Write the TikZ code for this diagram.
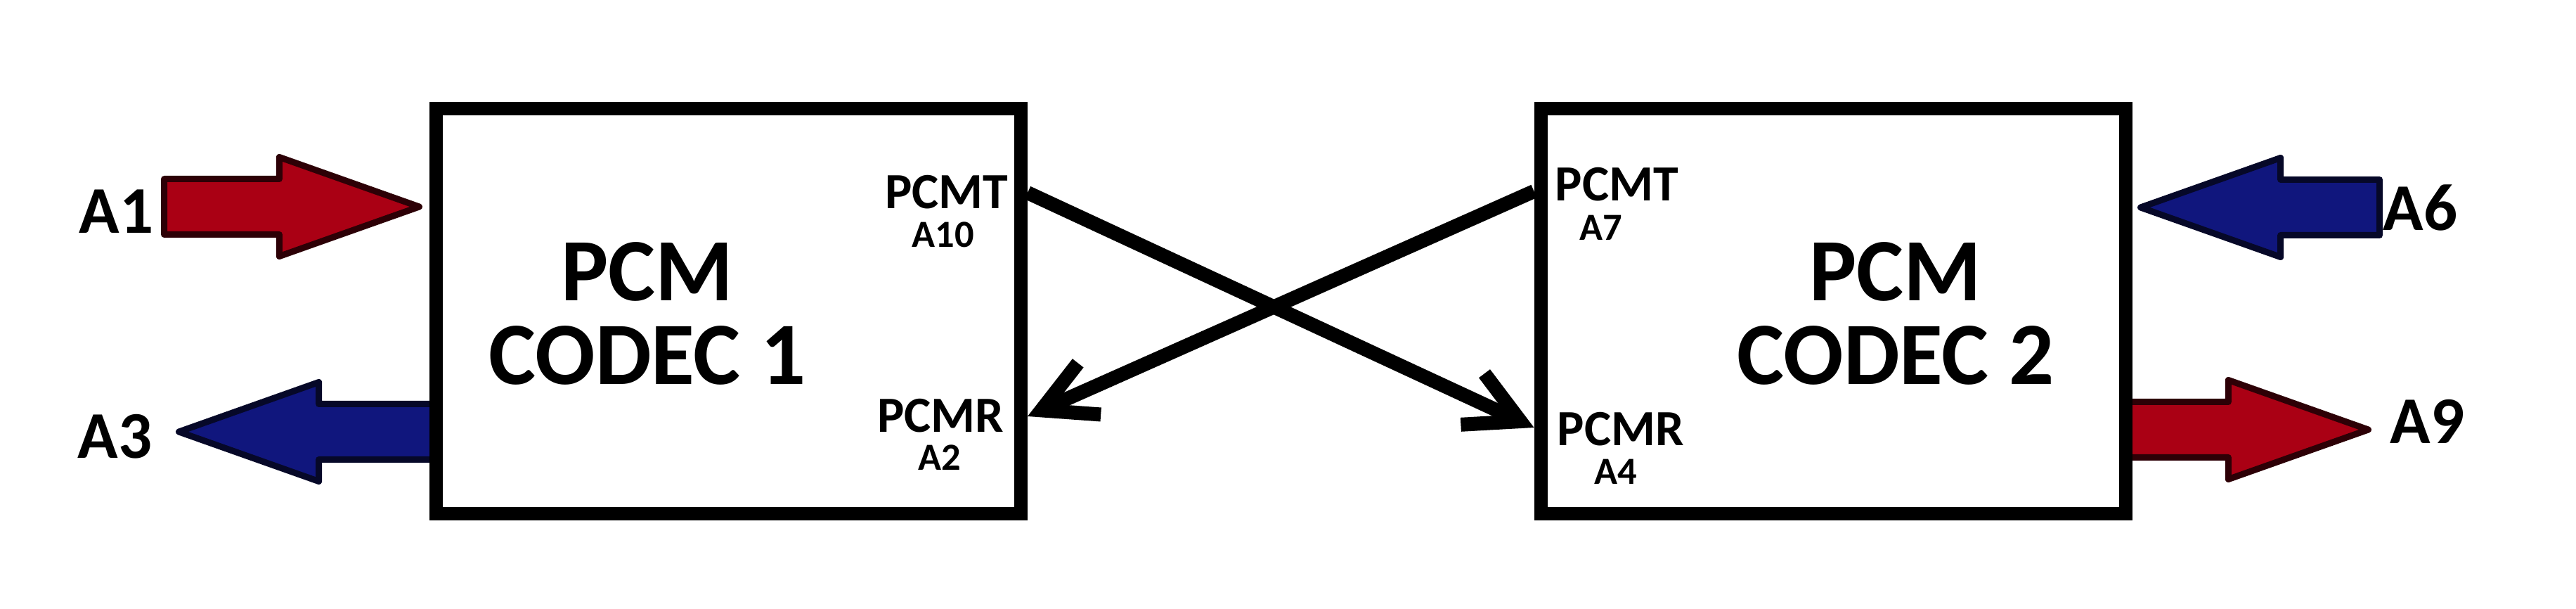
\documentclass[tikz,border=0pt]{standalone}
\usepackage{fontspec}
\setmainfont{Carlito}
\usepackage{tikz}
\usetikzlibrary{positioning}
\usetikzlibrary{shapes.arrows}
\usetikzlibrary{arrows.meta}

\definecolor{fatred}{RGB}{170,0,20}
\definecolor{fatredline}{RGB}{45,0,6}
\definecolor{fatblue}{RGB}{16,22,125}
\definecolor{fatblueline}{RGB}{6,8,40}

\begin{document}
\begin{tikzpicture}
  [
    codec/.style={
       draw=black,
       line width=0.19cm,
       minimum width=8.32cm,
       minimum height=5.76cm,
       inner sep=0pt
    },
    title/.style={
       font=\fontsize{36}{34}\selectfont\bfseries,
       align=center
    },
    pin/.style={
       font=\fontsize{20.5}{22}\selectfont\bfseries,
       inner sep=0pt
    },
    pinno/.style={
       font=\fontsize{15.5}{17}\selectfont\bfseries,
       inner sep=0pt
    },
    sig/.style={
       font=\fontsize{27}{30}\selectfont\bfseries,
       inner sep=0pt
    },
    fat/.style={
       single arrow,
       line width=0.09cm,
       line join=round,
       inner xsep=0pt,
       inner ysep=0.35cm,
       single arrow head extend=0.31cm,
       single arrow tip angle=39,
       minimum width=0pt
    },
    ld/.style={
       draw=black,
       line width=0.2cm,
       -{Straight Barb[length=0.75cm, width=0.8cm]}
    }
  ]
  \useasboundingbox (0,0) rectangle (36.65,8.66);

  % thick signal arrows
  \node (in1)  at ( 6.10,5.72) [fat, draw=fatredline, fill=fatred, minimum height=3.63cm, anchor=tip] {};
  \node (out1) at ( 2.41,2.52) [fat, draw=fatblueline, fill=fatblue, shape border rotate=180, minimum height=3.65cm, anchor=tip] {};
  \node (in2)  at (30.32,5.71) [fat, draw=fatblueline, fill=fatblue, shape border rotate=180, minimum height=3.40cm, anchor=tip] {};
  \node (out2) at (33.83,2.55) [fat, draw=fatredline, fill=fatred, minimum height=3.48cm, anchor=tip] {};

  \node (a1) at ( 2.19,5.34) [sig, anchor=base east] {A1};
  \node (a3) at ( 2.17,2.14) [sig, anchor=base east] {A3};
  \node (a6) at (33.90,5.38) [sig, anchor=base west] {A6};
  \node (a9) at (34.00,2.35) [sig, anchor=base west] {A9};

  % the two codecs
  \node (codec1) at (10.365,4.235) [codec] {};
  \node (codec2) at (26.08,4.235)  [codec] {};

  \node (name1) at ( 9.21,4.20) [title] {PCM\\CODEC 1};
  \node (name2) at (26.97,4.20) [title] {PCM\\CODEC 2};

  \node (pcmt1) at (14.35,5.69) [pin, anchor=base east] {PCMT};
  \node (no10)  at (13.42,5.14) [pinno, anchor=base] {A10};
  \node (pcmr1) at (14.29,2.51) [pin, anchor=base east] {PCMR};
  \node (no2)   at (13.37,1.97) [pinno, anchor=base] {A2};

  \node (pcmt2) at (22.12,5.80) [pin, anchor=base west] {PCMT};
  \node (no7)   at (22.78,5.24) [pinno, anchor=base] {A7};
  \node (pcmr2) at (22.15,2.32) [pin, anchor=base west] {PCMR};
  \node (no4)   at (22.99,1.77) [pinno, anchor=base] {A4};

  % crossed links
  \coordinate (tx1) at (codec1.east |- 0,5.92);
  \coordinate (rx2) at (codec2.west |- 0,2.58);
  \coordinate (tx2) at (codec2.west |- 0,5.94);
  \coordinate (rx1) at (codec1.east |- 0,2.74);
  \draw [ld] (tx1) -- (rx2);
  \draw [ld] (tx2) -- (rx1);
\end{tikzpicture}
\end{document}
